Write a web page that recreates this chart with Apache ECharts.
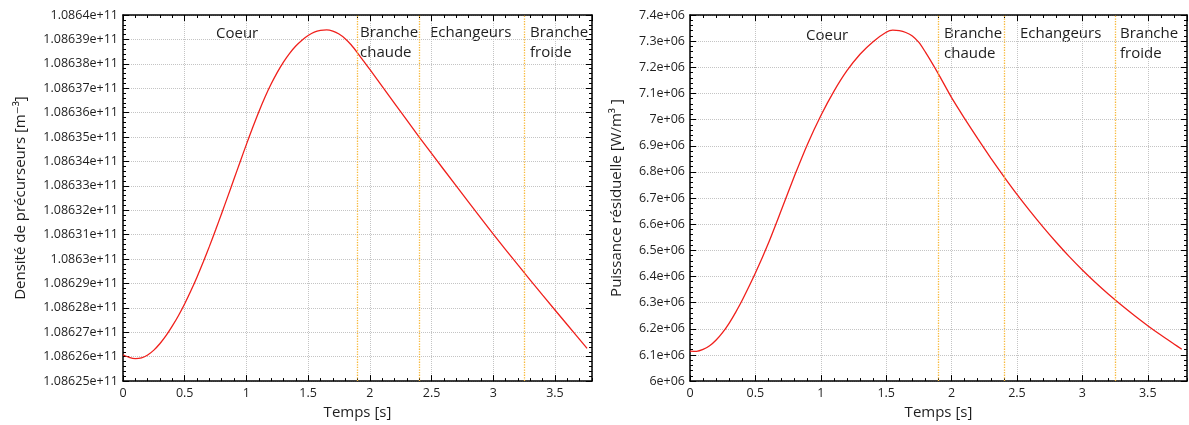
<!DOCTYPE html>
<html>
<head>
<meta charset="utf-8">
<script src="https://cdn.jsdelivr.net/npm/echarts@6.0.0/dist/echarts.min.js"></script>
<style>
  html, body { margin: 0; padding: 0; background: #fff; }
  #chart { width: 1189px; height: 425px; }
</style>
</head>
<body>
<div id="chart"></div>
<script>
// données
const tempsDensite = [0, 0.05, 0.1, 0.15, 0.2, 0.25, 0.3, 0.35, 0.4, 0.45, 0.5, 0.55, 0.6, 0.65, 0.7, 0.75,
  0.8, 0.85, 0.9, 0.95, 1.0, 1.05, 1.1, 1.15, 1.2, 1.25, 1.3, 1.35, 1.4, 1.45, 1.5, 1.55, 1.6, 1.65, 1.7,
  1.75, 1.8, 1.85, 1.9, 1.95, 2.0, 2.2, 2.4, 2.6, 2.8, 3.0, 3.2, 3.4, 3.6, 3.76];
const densite = [1.0862608e11, 1.0862597e11, 1.0862592e11, 1.0862595e11, 1.0862607e11, 1.0862627e11,
  1.0862654e11, 1.0862687e11, 1.0862726e11, 1.0862769e11, 1.0862817e11, 1.0862870e11, 1.0862927e11,
  1.0862988e11, 1.0863052e11, 1.0863119e11, 1.0863188e11, 1.0863258e11, 1.0863329e11, 1.0863400e11,
  1.0863470e11, 1.0863538e11, 1.0863603e11, 1.0863663e11, 1.0863717e11, 1.0863765e11, 1.0863807e11,
  1.0863843e11, 1.0863873e11, 1.0863897e11, 1.0863916e11, 1.0863930e11, 1.0863937e11, 1.0863939e11,
  1.0863934e11, 1.0863922e11, 1.0863903e11, 1.0863877e11, 1.0863845e11, 1.0863811e11, 1.0863777e11,
  1.0863638e11, 1.0863500e11, 1.0863366e11, 1.0863233e11, 1.0863102e11, 1.0862976e11, 1.0862852e11,
  1.0862731e11, 1.0862634e11];

const tempsPuissance = [0, 0.05, 0.1, 0.15, 0.2, 0.25, 0.3, 0.35, 0.4, 0.5, 0.6, 0.7, 0.8, 0.9, 1.0, 1.1,
  1.2, 1.3, 1.4, 1.5, 1.55, 1.6, 1.65, 1.7, 1.75, 1.8, 1.85, 1.9, 2.0, 2.1, 2.2, 2.3, 2.4, 2.5, 2.6, 2.7,
  2.8, 2.9, 3.0, 3.1, 3.2, 3.3, 3.4, 3.5, 3.6, 3.7, 3.76];
const puissance = [6115000, 6114000, 6121000, 6135000, 6157000, 6186000, 6222000, 6264000, 6310000,
  6413000, 6528000, 6656000, 6786000, 6908000, 7015000, 7108000, 7187000, 7250000, 7298000, 7334000,
  7342000, 7340000, 7333000, 7320000, 7295000, 7258000, 7217000, 7174000, 7084000, 7004000, 6927000,
  6853000, 6782000, 6714000, 6650000, 6589000, 6531000, 6476000, 6425000, 6377000, 6332000, 6290000,
  6250000, 6212000, 6176000, 6142000, 6122000];

const limitesZones = [1.9, 2.4, 3.25];
const ticksX = { min: 0, max: 3.8, major: 0.5, minor: 0.1 };
const ticksDensite = { min: 1.08625e11, max: 1.0864e11, step: 1e6 };
const ticksPuissance = { min: 6e6, max: 7.4e6, step: 1e5 };

const police = '"Open Sans", "DejaVu Sans", sans-serif';
const noir = '#000';
const texte = '#1e1e1e';
const grille = '#c4c4c4';

// format gnuplot : 1.08639e+11, 6.1e+06
function fmtExp(v) {
  if (v === 0) return '0';
  const e = Math.floor(Math.log10(Math.abs(v)) + 1e-9);
  const m = parseFloat((v / Math.pow(10, e)).toFixed(6));
  return m + 'e' + (e < 0 ? '-' : '+') + String(Math.abs(e)).padStart(2, '0');
}

function axesX(gridIndex) {
  const base = { gridIndex, type: 'value', min: ticksX.min, max: ticksX.max, silent: true };
  const line = { show: true, onZero: false, lineStyle: { color: noir, width: 1.5 } };
  return [
    Object.assign({}, base, {
      position: 'bottom', interval: ticksX.major,
      name: 'Temps [s]', nameLocation: 'middle', nameGap: 20,
      nameTextStyle: { fontSize: 15, color: texte, fontFamily: police },
      axisLine: line,
      axisTick: { inside: true, length: 6, lineStyle: { color: noir, width: 1 } },
      axisLabel: { margin: 6, fontSize: 12.5, color: texte, fontFamily: police, showMaxLabel: false },
      splitLine: { show: true, lineStyle: { type: 'dotted', color: grille, width: 1 } }
    }),
    Object.assign({}, base, {
      position: 'bottom', interval: ticksX.minor,
      axisLine: { show: false },
      axisTick: { inside: true, length: 3, lineStyle: { color: noir, width: 1 } },
      axisLabel: { show: false }, splitLine: { show: false }
    }),
    Object.assign({}, base, {
      position: 'top', interval: ticksX.major,
      axisLine: line,
      axisTick: { inside: true, length: 6, lineStyle: { color: noir, width: 1 } },
      axisLabel: { show: false }, splitLine: { show: false }
    }),
    Object.assign({}, base, {
      position: 'top', interval: ticksX.minor,
      axisLine: { show: false },
      axisTick: { inside: true, length: 3, lineStyle: { color: noir, width: 1 } },
      axisLabel: { show: false }, splitLine: { show: false }
    })
  ];
}

function axesY(gridIndex, t, nom, gap) {
  const base = { gridIndex, type: 'value', min: t.min, max: t.max, interval: t.step, silent: true, scale: true };
  const line = { show: true, onZero: false, lineStyle: { color: noir, width: 1.5 } };
  const tick = { inside: true, length: 6, lineStyle: { color: noir, width: 1 } };
  const minor = { show: true, splitNumber: 5, length: 3, lineStyle: { color: noir, width: 1 } };
  return [
    Object.assign({}, base, {
      position: 'left', name: nom, nameLocation: 'middle', nameGap: gap,
      nameTextStyle: { fontSize: 15, color: texte, fontFamily: police },
      axisLine: line, axisTick: tick, minorTick: minor,
      axisLabel: { margin: 5, fontSize: 12.5, color: texte, fontFamily: police, formatter: fmtExp },
      splitLine: { show: true, lineStyle: { type: 'dotted', color: grille, width: 1 } }
    }),
    Object.assign({}, base, {
      position: 'right', axisLine: line, axisTick: tick, minorTick: minor,
      axisLabel: { show: false }, splitLine: { show: false }
    })
  ];
}

function courbe(xi, yi, temps, valeurs) {
  return {
    type: 'line', xAxisIndex: xi, yAxisIndex: yi,
    data: temps.map((t, i) => [t, valeurs[i]]),
    showSymbol: false, smooth: 0.25, animation: false, silent: true,
    lineStyle: { color: '#f0201c', width: 1.3 },
    markLine: {
      silent: true, symbol: 'none', animation: false,
      label: { show: false },
      lineStyle: { type: 'dotted', color: '#f8b93a', width: 1.3 },
      data: limitesZones.map(x => ({ xAxis: x }))
    }
  };
}

function etiquette(txt, left, top, align) {
  return {
    type: 'text', left, top, silent: true,
    style: { text: txt, fill: texte, font: '15px ' + police, lineHeight: 19.5, align: align || 'left' }
  };
}

const chart = echarts.init(document.getElementById('chart'));
chart.setOption({
  backgroundColor: '#fff',
  animation: false,
  grid: [
    { left: 123, top: 15, width: 469, height: 371 },
    { left: 690, top: 15, width: 497, height: 371 }
  ],
  xAxis: axesX(0).concat(axesX(1)),
  yAxis: axesY(0, ticksDensite, 'Densité de précurseurs [m⁻³]', 95)
    .concat(axesY(1, ticksPuissance, 'Puissance résiduelle [W/m³ ]', 66)),
  series: [
    courbe(0, 0, tempsDensite, densite),
    courbe(4, 2, tempsPuissance, puissance)
  ],
  graphic: [
    etiquette('Coeur', 216, 24),
    etiquette('Branche\nchaude', 360, 23),
    etiquette('Echangeurs', 430, 23),
    etiquette('Branche\nfroide', 530, 23, 'center'),
    etiquette('Coeur', 806, 26),
    etiquette('Branche\nchaude', 944, 24),
    etiquette('Echangeurs', 1020, 24),
    etiquette('Branche\nfroide', 1120, 24, 'center')
  ]
});
</script>
</body>
</html>
